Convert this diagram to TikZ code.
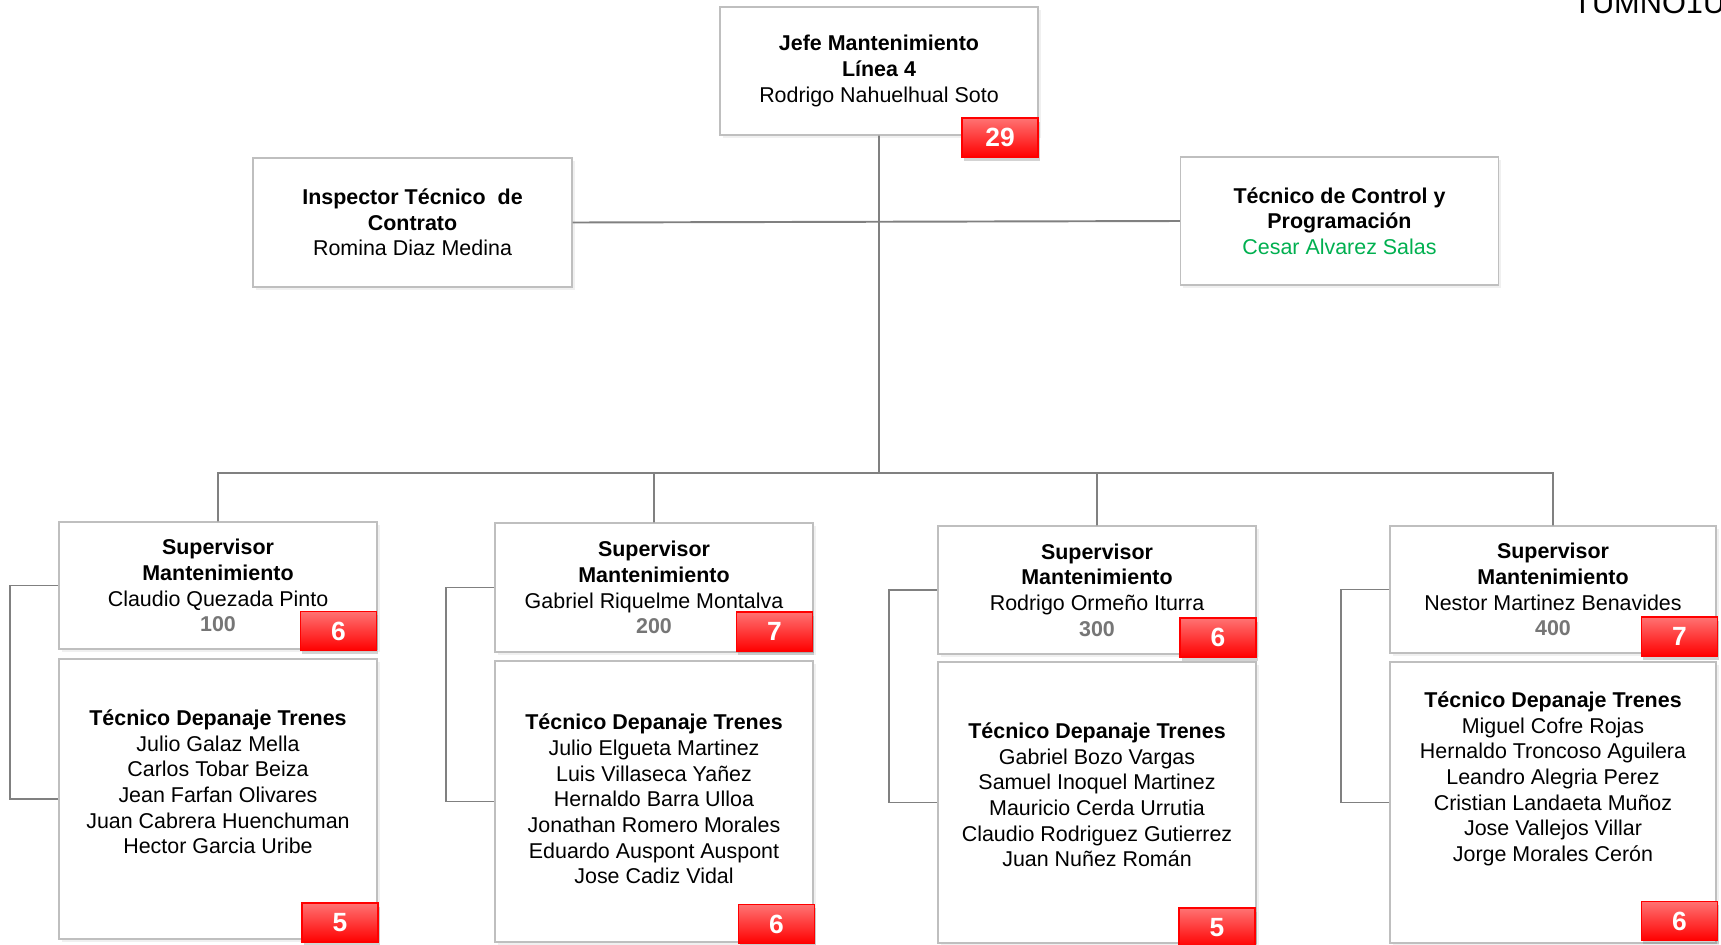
\documentclass[tikz,border=0pt]{standalone}
\usepackage{fontspec}
\setmainfont{Liberation Sans}
\usepackage{tikz}
\usepackage{xcolor}
\usetikzlibrary{shapes, positioning, shadows}

\definecolor{cajagris}{HTML}{BFBFBF}
\definecolor{lineagris}{HTML}{808080}
\definecolor{verde}{HTML}{00B050}
\definecolor{numgris}{HTML}{767676}

\begin{document}
\begin{tikzpicture}[x=0.02cm, y=-0.02cm,
        caja/.style={rectangle, draw=cajagris, fill=white, line width=0.7pt, minimum width=6.36cm, minimum height=2.56cm, align=center, font=\fontsize{12.2}{14.6}\selectfont, drop shadow={opacity=0.12, shadow xshift=1.5pt, shadow yshift=-1.5pt}},
        texto/.style={align=center, font=\fontsize{12.2}{14.6}\selectfont},
        cifra/.style={rectangle, draw=red, line width=1pt, top color=red!55, bottom color=red, minimum width=1.52cm, minimum height=0.78cm, text=white, font=\fontsize{15}{17}\selectfont\bfseries, drop shadow={opacity=0.35, shadow xshift=1pt, shadow yshift=-2pt}},
        linea/.style={draw=lineagris, line width=1.1pt}]
        \useasboundingbox (0,0) rectangle (1721,944);

        \node[anchor=base west, font=\fontsize{17.5}{20}\selectfont] (codigo) at (1567,13) {TUMNO1U2};

        \node[caja] (jefe) at (879, 71) {\textbf{Jefe Mantenimiento}\\\textbf{Línea 4}\\Rodrigo Nahuelhual Soto};
        \node[caja, minimum width=6.38cm, minimum height=2.58cm] (insp) at (412.5, 222.5) {\textbf{Inspector Técnico~ de}\\\textbf{Contrato}\\Romina Diaz Medina};
        \node[caja] (ctrl) at (1339.5, 221) {\textbf{Técnico de Control y}\\\textbf{Programación}\\\textcolor{verde}{Cesar Alvarez Salas}};

        \node[caja, minimum height=2.54cm] (sup1) at (218, 585.5) {\textbf{Supervisor}\\\textbf{Mantenimiento}\\Claudio Quezada Pinto\\\textcolor{numgris}{\textbf{100}}};
        \node[caja, minimum height=2.58cm] (sup2) at (654, 587.5) {\textbf{Supervisor}\\\textbf{Mantenimiento}\\Gabriel Riquelme Montalva\\\textcolor{numgris}{\textbf{200}}};
        \node[caja] (sup3) at (1097, 590) {\textbf{Supervisor}\\\textbf{Mantenimiento}\\Rodrigo Ormeño Iturra\\\textcolor{numgris}{\textbf{300}}};
        \node[caja, minimum width=6.52cm, minimum height=2.54cm] (sup4) at (1553, 589.5) {\textbf{Supervisor}\\\textbf{Mantenimiento}\\Nestor Martinez Benavides\\\textcolor{numgris}{\textbf{400}}};

        \node[caja, minimum height=5.6cm] (tec1) at (218, 799) {};
        \node[caja, minimum height=5.62cm] (tec2) at (654, 801.5) {};
        \node[caja, minimum height=5.62cm] (tec3) at (1097, 802.5) {};
        \node[caja, minimum width=6.52cm, minimum height=5.62cm] (tec4) at (1553, 802.5) {};

        \node[texto] (lista1) at (218, 782) {\textbf{Técnico Depanaje Trenes}\\Julio Galaz Mella\\Carlos Tobar Beiza\\Jean Farfan Olivares\\Juan Cabrera Huenchuman\\Hector Garcia Uribe};
        \node[texto] (lista2) at (654, 799) {\textbf{Técnico Depanaje Trenes}\\Julio Elgueta Martinez\\Luis Villaseca Yañez\\Hernaldo Barra Ulloa\\Jonathan Romero Morales\\Eduardo Auspont Auspont\\Jose Cadiz Vidal};
        \node[texto] (lista3) at (1097, 795) {\textbf{Técnico Depanaje Trenes}\\Gabriel Bozo Vargas\\Samuel Inoquel Martinez\\Mauricio Cerda Urrutia\\Claudio Rodriguez Gutierrez\\Juan Nuñez Román};
        \node[texto] (lista4) at (1553, 779) {\textbf{Técnico Depanaje Trenes}\\Miguel Cofre Rojas\\Hernaldo Troncoso Aguilera\\Leandro Alegria Perez\\Cristian Landaeta Muñoz\\Jose Vallejos Villar\\Jorge Morales Cerón};

        \node[cifra] (n0) at (1000, 137.5) {29};
        \node[cifra] (ns1) at (338.5, 631) {6};
        \node[cifra] (nt1) at (340, 922.5) {5};
        \node[cifra] (ns2) at (774.5, 631.5) {7};
        \node[cifra] (nt2) at (776.5, 924) {6};
        \node[cifra] (ns3) at (1218, 637.5) {6};
        \node[cifra] (nt3) at (1217, 927.5) {5};
        \node[cifra] (ns4) at (1679.5, 636.5) {7};
        \node[cifra] (nt4) at (1679.5, 921) {6};

        \coordinate (bus) at (879, 473);

        \draw[linea] (jefe.south) -- (bus)
            (insp.east) -- (ctrl.west)
            (sup1.north) -- (sup1.north |- bus) -- (sup4.north |- bus) -- (sup4.north)
            (sup2.north) -- (sup2.north |- bus)
            (sup3.north) -- (sup3.north |- bus);
        \draw[linea] (sup1.west) -- ++(-48,0) |- (tec1.west)
            (sup2.west) -- ++(-48,0) |- (tec2.west)
            (sup3.west) -- ++(-48,0) |- (tec3.west)
            (sup4.west) -- ++(-48,0) |- (tec4.west);
    \end{tikzpicture}
\end{document}
